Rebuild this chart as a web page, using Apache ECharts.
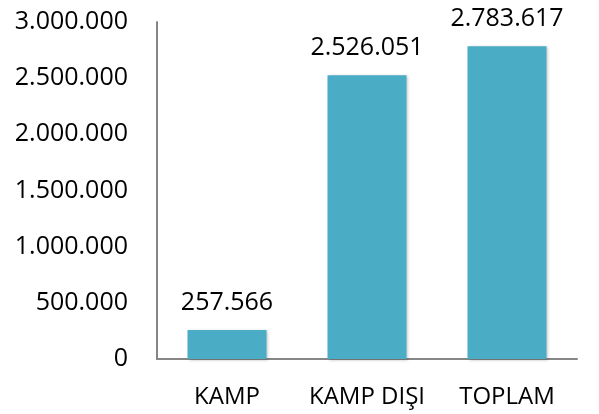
<!DOCTYPE html>
<html>
<head>
<meta charset="utf-8">
<script src="https://cdn.jsdelivr.net/npm/echarts@6/dist/echarts.min.js"></script>
<style>
  html, body { margin: 0; padding: 0; background: #fff; }
  #chart { width: 599px; height: 414px; }
</style>
</head>
<body>
<div id="chart"></div>
<script>
var categories = ['KAMP', 'KAMP DIŞI', 'TOPLAM'];
var values = [257566, 2526051, 2783617];

// 1234567 -> "1.234.567"
function fmt(v) {
    return String(v).replace(/\B(?=(\d{3})+(?!\d))/g, '.');
}

var myChart = echarts.init(document.getElementById('chart'));
myChart.setOption({
    animation: false,
    textStyle: { fontFamily: 'Open Sans' },
    grid: { left: 157, right: 22, top: 22, bottom: 55 },
    xAxis: {
        type: 'category',
        data: categories,
        axisLine: { lineStyle: { color: '#868686', width: 2 } },
        axisTick: { show: false },
        axisLabel: { color: '#000', fontSize: 24, margin: 26, interval: 0 }
    },
    yAxis: {
        type: 'value',
        min: 0,
        max: 3000000,
        interval: 500000,
        axisLine: { show: true, lineStyle: { color: '#868686', width: 2 } },
        axisTick: { show: false },
        splitLine: { show: false },
        axisLabel: {
            color: '#000',
            fontSize: 25,
            margin: 29,
            formatter: fmt
        }
    },
    series: [{
        type: 'bar',
        data: values,
        barWidth: 79,
        itemStyle: {
            color: '#4BACC6',
            shadowColor: 'rgba(0,0,0,0.25)',
            shadowBlur: 3,
            shadowOffsetX: 1,
            shadowOffsetY: 1
        },
        label: {
            show: true,
            position: 'top',
            distance: 15,
            color: '#000',
            fontSize: 25,
            formatter: function (p) { return fmt(p.value); }
        }
    }]
});
</script>
</body>
</html>
